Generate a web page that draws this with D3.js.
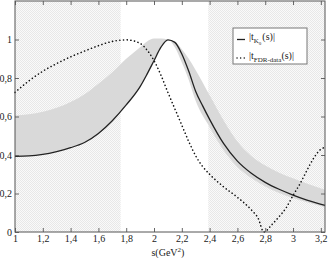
<!DOCTYPE html>
<html>
<head>
<meta charset="utf-8">
<script src="https://cdn.jsdelivr.net/npm/d3@7"></script>
<style>
  body { margin: 0; background: #fff; }
  svg { display: block; font-family: "Liberation Serif", "DejaVu Serif", serif; }
</style>
</head>
<body>
<svg id="chart" width="331" height="258"></svg>
<script>
// |t_K0(s)| solid curve
const sK = [1.0, 1.1, 1.2, 1.3, 1.4, 1.5, 1.6, 1.7, 1.8, 1.9, 1.95, 2.0, 2.05, 2.1, 2.15, 2.2, 2.25, 2.3, 2.35, 2.4, 2.5, 2.6, 2.7, 2.8, 2.9, 3.0, 3.1, 3.23];
const tK = [0.393, 0.395, 0.403, 0.418, 0.438, 0.465, 0.512, 0.578, 0.66, 0.755, 0.82, 0.89, 0.96, 0.998, 0.985, 0.925, 0.835, 0.73, 0.655, 0.585, 0.46, 0.368, 0.305, 0.258, 0.222, 0.192, 0.166, 0.138];

// error band
const bandS = [1.0, 1.1, 1.2, 1.3, 1.4, 1.5, 1.6, 1.7, 1.8, 1.9, 1.95, 2.0, 2.05, 2.1, 2.15, 2.2, 2.25, 2.3, 2.4, 2.5, 2.6, 2.7, 2.8, 2.9, 3.0, 3.1, 3.23];
const bandHi = [0.605, 0.612, 0.625, 0.645, 0.675, 0.715, 0.77, 0.83, 0.9, 0.96, 0.99, 1.005, 1.005, 1.0, 0.99, 0.95, 0.9, 0.84, 0.71, 0.58, 0.47, 0.395, 0.345, 0.308, 0.279, 0.252, 0.22];
const bandLo = [0.393, 0.395, 0.403, 0.418, 0.438, 0.465, 0.512, 0.578, 0.66, 0.755, 0.82, 0.89, 0.96, 0.998, 0.96, 0.88, 0.79, 0.68, 0.545, 0.425, 0.338, 0.28, 0.237, 0.203, 0.176, 0.154, 0.128];

// |t_FDR-data(s)| dotted curve
const sF = [1.0, 1.1, 1.2, 1.3, 1.4, 1.5, 1.6, 1.7, 1.8, 1.9, 1.95, 2.0, 2.05, 2.1, 2.15, 2.2, 2.25, 2.3, 2.35, 2.4, 2.5, 2.6, 2.7, 2.75, 2.79, 2.85, 2.9, 2.95, 3.0, 3.05, 3.1, 3.15, 3.2, 3.23];
const tF = [0.725, 0.785, 0.835, 0.875, 0.91, 0.94, 0.968, 0.99, 0.998, 0.98, 0.945, 0.89, 0.815, 0.725, 0.64, 0.555, 0.47, 0.395, 0.34, 0.3, 0.235, 0.18, 0.115, 0.07, 0.0, 0.04, 0.08, 0.125, 0.19, 0.25, 0.32, 0.385, 0.43, 0.44];

// shaded s ranges
const shaded = [[1.0, 1.76], [2.39, 3.23]];

const xTicks = [1, 1.2, 1.4, 1.6, 1.8, 2, 2.2, 2.4, 2.6, 2.8, 3, 3.2];
const yTicks = [0, 0.2, 0.4, 0.6, 0.8, 1];

const margin = {top: 1, right: 6, bottom: 26, left: 15};
const width = 331 - margin.left - margin.right;
const height = 258 - margin.top - margin.bottom;

const x = d3.scaleLinear().domain([1, 3.23]).range([0, width]);
const y = d3.scaleLinear().domain([0, 1.2]).range([height, 0]);
const fmt = d => String(d).replace(".", ",");

const svg = d3.select("#chart");

const defs = svg.append("defs");
const pat = defs.append("pattern")
    .attr("id", "stip")
    .attr("width", 2).attr("height", 2)
    .attr("patternUnits", "userSpaceOnUse");
pat.append("rect").attr("width", 2).attr("height", 2).attr("fill", "#fafafa");
pat.append("rect").attr("width", 1).attr("height", 1).attr("fill", "#e8e8e8");
pat.append("rect").attr("x", 1).attr("y", 1).attr("width", 1).attr("height", 1).attr("fill", "#e8e8e8");

const g = svg.append("g").attr("transform", `translate(${margin.left},${margin.top})`);

g.selectAll("rect.shade")
    .data(shaded)
    .join("rect")
    .attr("class", "shade")
    .attr("x", d => x(d[0]))
    .attr("width", d => x(d[1]) - x(d[0]))
    .attr("y", 0)
    .attr("height", height)
    .attr("fill", "url(#stip)");

const area = d3.area()
    .x((d, i) => x(bandS[i]))
    .y0((d, i) => y(bandLo[i]))
    .y1((d, i) => y(bandHi[i]))
    .curve(d3.curveMonotoneX);

g.append("path")
    .datum(bandS)
    .attr("d", area)
    .attr("fill", "#d9d9d9");

const line = d3.line()
    .x(d => x(d[0]))
    .y(d => y(d[1]))
    .curve(d3.curveMonotoneX);

g.append("path")
    .datum(sF.map((s, i) => [s, tF[i]]))
    .attr("d", line)
    .attr("fill", "none")
    .attr("stroke", "#111")
    .attr("stroke-width", 1.6)
    .attr("stroke-linecap", "round")
    .attr("stroke-dasharray", "0.1,3.6");

g.append("path")
    .datum(sK.map((s, i) => [s, tK[i]]))
    .attr("d", line)
    .attr("fill", "none")
    .attr("stroke", "#222")
    .attr("stroke-width", 1.3);

// axes with inward ticks on all sides
const tickLen = 4;
g.append("g")
    .attr("transform", `translate(0,${height})`)
    .call(d3.axisBottom(x).tickValues(xTicks).tickSizeInner(-tickLen).tickSizeOuter(0).tickPadding(3).tickFormat(fmt));
g.append("g")
    .call(d3.axisTop(x).tickValues(xTicks).tickSizeInner(-tickLen).tickSizeOuter(0).tickFormat(""));
g.append("g")
    .call(d3.axisLeft(y).tickValues(yTicks).tickSizeInner(-tickLen).tickSizeOuter(0).tickPadding(3).tickFormat(fmt));
g.append("g")
    .attr("transform", `translate(${width},0)`)
    .call(d3.axisRight(y).tickValues(yTicks).tickSizeInner(-tickLen).tickSizeOuter(0).tickFormat(""));

g.selectAll(".domain").remove();
g.selectAll(".tick line").attr("stroke", "#666");
g.selectAll(".tick text")
    .attr("font-family", "Liberation Serif, serif")
    .attr("font-size", 10)
    .attr("fill", "#222");

g.append("rect")
    .attr("x", 0).attr("y", 0)
    .attr("width", width).attr("height", height)
    .attr("fill", "none")
    .attr("stroke", "#555")
    .attr("stroke-width", 1);

// x label
const xl = g.append("text")
    .attr("x", x(2.1))
    .attr("y", height + 24)
    .attr("text-anchor", "middle")
    .attr("font-size", 10)
    .attr("fill", "#222");
xl.append("tspan").text("s(GeV");
xl.append("tspan").attr("font-size", 7).attr("dy", -4).text("2");
xl.append("tspan").attr("dy", 4).text(")");

// legend
const lg = svg.append("g").attr("transform", "translate(233,28)");
lg.append("rect")
    .attr("width", 74).attr("height", 36)
    .attr("fill", "#fff")
    .attr("stroke", "#777")
    .attr("stroke-width", 1);
lg.append("line")
    .attr("x1", 4).attr("x2", 12).attr("y1", 11.5).attr("y2", 11.5)
    .attr("stroke", "#222").attr("stroke-width", 1.3);
lg.append("line")
    .attr("x1", 4).attr("x2", 12).attr("y1", 30).attr("y2", 30)
    .attr("stroke", "#111").attr("stroke-width", 1.4)
    .attr("stroke-linecap", "round").attr("stroke-dasharray", "0.1,3.5");

const t1 = lg.append("text").attr("x", 16).attr("y", 12).attr("font-size", 10).attr("fill", "#222");
t1.append("tspan").text("|t");
t1.append("tspan").attr("font-size", 7).attr("dy", 3).text("K");
t1.append("tspan").attr("font-size", 5).attr("dy", 2).text("0");
t1.append("tspan").attr("dy", -5).attr("dx", 1).text("(s)|");

const t2 = lg.append("text").attr("x", 16).attr("y", 31).attr("font-size", 10).attr("fill", "#222");
t2.append("tspan").text("|t");
t2.append("tspan").attr("font-size", 7).attr("dy", 3).text("FDR-data");
t2.append("tspan").attr("dy", -3).text("(s)|");
</script>
</body>
</html>
